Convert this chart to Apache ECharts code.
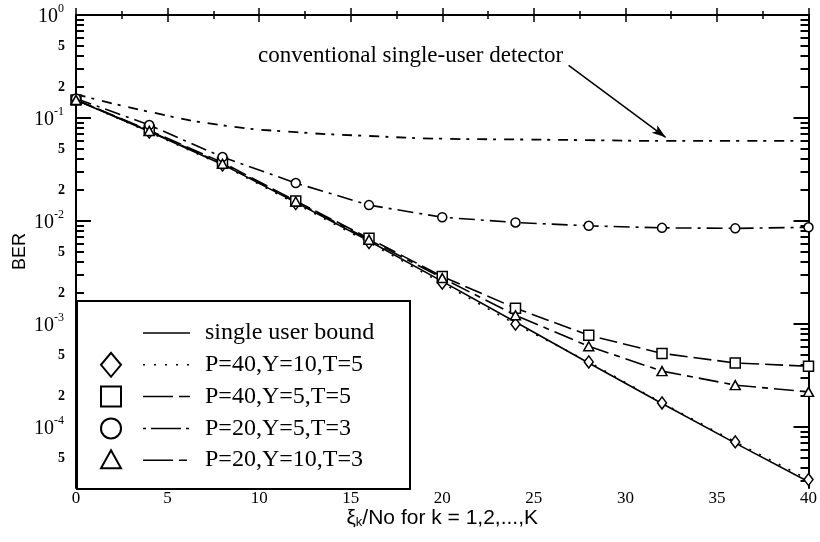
<!DOCTYPE html>
<html><head><meta charset="utf-8">
<script src="https://cdn.jsdelivr.net/npm/echarts@6/dist/echarts.min.js"></script>
<style>html,body{margin:0;padding:0;background:#fff}#c{width:820px;height:542px}</style>
</head><body><div id="c"></div>
<script>
// ---- data (BER values) ----
const xValues = [0, 4, 8, 12, 16, 20, 24, 28, 32, 36, 40];
const singleUserBound = [0.15, 0.074, 0.0355, 0.0152, 0.0064, 0.0026, 0.00105, 4.2e-4, 1.7e-4, 7.0e-5, 2.95e-5];
const p40y10t5 = [0.15, 0.073, 0.035, 0.0148, 0.0062, 0.0025, 0.00100, 4.3e-4, 1.72e-4, 7.2e-5, 3.1e-5];
const p40y5t5 = [0.15, 0.076, 0.037, 0.0157, 0.0068, 0.0029, 0.00143, 7.8e-4, 5.2e-4, 4.2e-4, 3.9e-4];
const p20y5t3 = [0.155, 0.0855, 0.0418, 0.0234, 0.0143, 0.0109, 0.0097, 0.0090, 0.0086, 0.0085, 0.0087];
const p20y10t3 = [0.15, 0.075, 0.036, 0.0155, 0.0066, 0.0028, 0.00122, 6.1e-4, 3.5e-4, 2.56e-4, 2.2e-4];
const conventional = [0.17, 0.115, 0.085, 0.073, 0.067, 0.063, 0.062, 0.061, 0.060, 0.060, 0.060];
const seriesNames = ['single user bound', 'P=40,Y=10,T=5', 'P=40,Y=5,T=5', 'P=20,Y=5,T=3', 'P=20,Y=10,T=3'];
const yDecadeExponents = [0, -1, -2, -3, -4];
const yMinorMultipliers = [2, 3, 4, 5, 6, 7, 8, 9];
const yMinorLabelDigits = [2, 5];
const yMinBER = 2.57e-5, yMaxBER = 1;
const annotationText = 'conventional single-user detector';
const arrowFrom = [26.9, 0.325];   // [x, BER]
const arrowTo = [32.2, 0.065];
const xAxisName = ['ξ', 'k', '/No for k = 1,2,...,K'];
const yAxisName = 'BER';

// ---- build ----
const lg = Math.log10;
const yMin = lg(yMinBER), yMax = lg(yMaxBER);
const toPts = arr => xValues.map((x, i) => [x, lg(arr[i])]);
const majorVals = yDecadeExponents.filter(v => v >= yMin && v <= yMax);
const minorVals = [], minorLabelVals = [];
for (let e = 0; e >= -5; e--) {
  yMinorMultipliers.forEach(k => {
    const v = lg(k) + e - 1;
    if (v >= yMin && v <= yMax) {
      minorVals.push(v);
      if (yMinorLabelDigits.includes(k)) minorLabelVals.push(v);
    }
  });
}
const SERIF = 'Liberation Serif';
const SANS = 'Liberation Sans';
const black = '#000';

function yAx(pos, major, labels) {
  return {
    type: 'value', position: pos, min: yMin, max: yMax,
    axisLine: { show: major, lineStyle: { color: black, width: 2 } },
    splitLine: { show: false },
    axisTick: { show: true, inside: true, length: major ? 15 : 8, lineStyle: { color: black, width: 2 },
      customValues: major ? majorVals : minorVals },
    axisLabel: labels ? (major ? {
      show: true, customValues: majorVals, margin: 12,
      formatter: v => '{b|10}{s|' + Math.round(v) + '}',
      rich: {
        b: { fontFamily: SERIF, fontSize: 20, color: black, verticalAlign: 'bottom', lineHeight: 24 },
        s: { fontFamily: SERIF, fontSize: 12, color: black, verticalAlign: 'top', lineHeight: 24 }
      }
    } : {
      show: true, customValues: minorLabelVals, margin: 11,
      fontFamily: SERIF, fontSize: 14, fontWeight: 'bold', color: black,
      formatter: v => String(Math.round(Math.pow(10, v - Math.floor(v + 1e-9))))
    }) : { show: false },
    name: (labels && major) ? yAxisName : '',
    nameLocation: 'middle', nameGap: 47, nameRotate: 90, nameMoveOverlap: false,
    nameTextStyle: { fontFamily: SANS, fontSize: 18, color: black }
  };
}

const markerStyle = { color: '#fff', borderColor: black, borderWidth: 1.5 };
function ser(name, data, dash, symbol, size) {
  return {
    name, type: 'line', data: toPts(data),
    symbol: symbol || 'none', symbolSize: size || 9, showSymbol: !!symbol,
    itemStyle: markerStyle,
    lineStyle: { color: black, width: 1.6, type: dash },
    z: 3
  };
}

const series = [
  ser(seriesNames[0], singleUserBound, 'solid'),
  ser(seriesNames[1], p40y10t5, [2, 9], 'diamond', [9, 12]),
  ser(seriesNames[2], p40y5t5, [18, 6], 'rect', 10),
  ser(seriesNames[3], p20y5t3, [16, 6, 3, 6], 'circle', 9),
  ser(seriesNames[4], p20y10t3, [20, 6, 6, 6], 'triangle', [10, 9]),
  {
    name: 'conventional', type: 'line', data: toPts(conventional), smooth: true,
    symbol: 'none', lineStyle: { color: black, width: 1.8, type: [10, 6, 3, 8] }, z: 2,
    markLine: {
      silent: true, symbol: ['none', 'arrow'], symbolSize: [7, 14],
      lineStyle: { color: black, width: 1.5, type: 'solid' }, label: { show: false },
      data: [[{ coord: [arrowFrom[0], lg(arrowFrom[1])] }, { coord: [arrowTo[0], lg(arrowTo[1])] }]]
    }
  }
];

// legend drawn as graphic (marker, line sample, text)
const legendDash = ['solid', [2, 9], [30, 6, 12, 6], [3, 5, 30, 5, 3], [30, 6, 8, 6]];
const legendSymbols = [null, 'diamond', 'rect', 'circle', 'triangle'];
const lgLeft = 76, lgTop = 300, lgW = 333, lgH = 188;
const rowY0 = 333, rowStep = 31.8;
const g = [{
  type: 'rect', left: lgLeft, top: lgTop, z: 100,
  shape: { width: lgW, height: lgH },
  style: { fill: '#fff', stroke: black, lineWidth: 2 }
}];
seriesNames.forEach((n, i) => {
  const y = rowY0 + i * rowStep;
  g.push({ type: 'line', z: 101, shape: { x1: 143, y1: y, x2: 190, y2: y },
    style: { stroke: black, lineWidth: 1.5, lineDash: legendDash[i] === 'solid' ? null : legendDash[i] } });
  g.push({ type: 'text', z: 101, x: 205, y: y,
    style: { text: n, font: '24px "' + SERIF + '"', fill: black, textVerticalAlign: 'middle', verticalAlign: 'middle' } });
  const s = legendSymbols[i];
  const st = { fill: '#fff', stroke: black, lineWidth: 2 };
  if (s === 'diamond') g.push({ type: 'polygon', z: 101, shape: { points: [[111, y - 12], [121, y], [111, y + 12], [101, y]] }, style: st });
  if (s === 'rect') g.push({ type: 'rect', z: 101, shape: { x: 101, y: y - 10, width: 20, height: 20 }, style: st });
  if (s === 'circle') g.push({ type: 'circle', z: 101, shape: { cx: 111, cy: y, r: 10 }, style: st });
  if (s === 'triangle') g.push({ type: 'polygon', z: 101, shape: { points: [[111, y - 10], [121, y + 8], [101, y + 8]] }, style: st });
});
g.push({ type: 'text', z: 101, x: 258, y: 56,
  style: { text: annotationText, font: '23px "' + SERIF + '"', fill: black, textVerticalAlign: 'middle', verticalAlign: 'middle' } });

const xBase = {
  type: 'value', min: 0, max: 40, interval: 5,
  axisLine: { lineStyle: { color: black, width: 2 } },
  splitLine: { show: false },
  axisTick: { inside: true, length: 7, lineStyle: { color: black, width: 1.5 } },
  minorTick: { show: true, splitNumber: 2, length: 4, lineStyle: { color: black, width: 1.5 } },
  minorSplitLine: { show: false }
};

const option = {
  animation: false,
  backgroundColor: '#fff',
  grid: { left: 76, right: 7, top: 15, bottom: 54 },
  xAxis: [
    Object.assign({}, xBase, {
      position: 'bottom',
      axisLabel: { fontFamily: SERIF, fontSize: 17, color: black, margin: 2 },
      name: '{n|' + xAxisName[0] + '}{k|' + xAxisName[1] + '}{n|' + xAxisName[2] + '}',
      nameLocation: 'middle', nameGap: 20, nameMoveOverlap: false,
      nameTextStyle: { rich: {
        n: { fontFamily: SANS, fontSize: 21, color: black },
        k: { fontFamily: SANS, fontSize: 13, color: black, verticalAlign: 'bottom', padding: [7, 0, 0, 0] }
      } }
    }),
    Object.assign({}, xBase, { position: 'top', axisLabel: { show: false } })
  ],
  yAxis: [yAx('left', true, true), yAx('left', false, true), yAx('right', true, false), yAx('right', false, false)],
  series,
  graphic: g
};
const chart = echarts.init(document.getElementById('c'), null, { renderer: 'canvas' });
chart.setOption(option);
</script></body></html>
